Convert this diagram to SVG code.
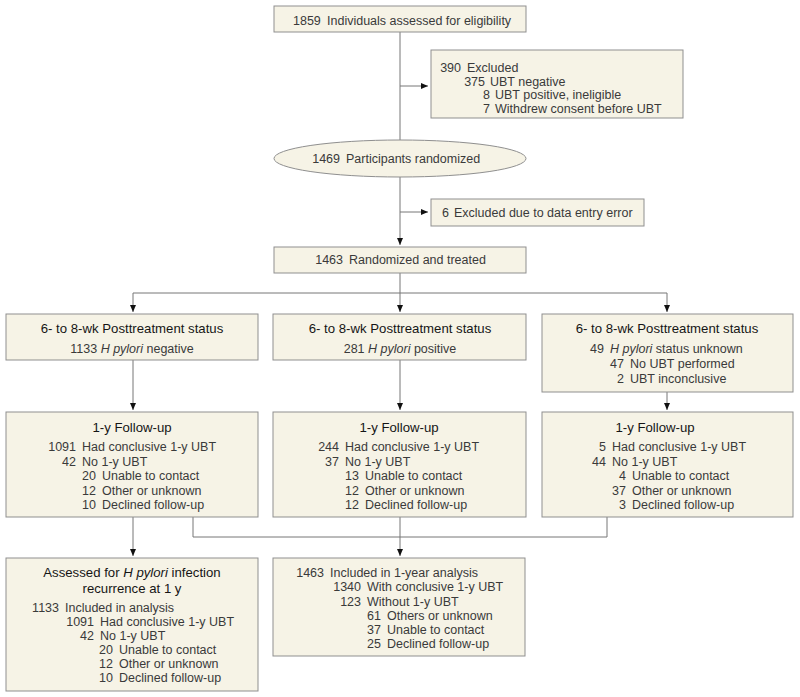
<svg xmlns="http://www.w3.org/2000/svg" width="800" height="697" viewBox="0 0 800 697">
<defs>
<marker id="ah" markerUnits="userSpaceOnUse" markerWidth="8" markerHeight="7" refX="7" refY="3" orient="auto">
<path d="M0,0 L7,3 L0,6 z" fill="#111"/>
</marker>
<style>
.box{fill:#f6f3e6;stroke:#8f8f8f;stroke-width:1}
.ln{fill:none;stroke:#777;stroke-width:1}
.arr{fill:none;stroke:#777;stroke-width:1;marker-end:url(#ah)}
text{font-family:"Liberation Sans",Arial,Helvetica,sans-serif;font-size:12.5px;fill:#3a3a3a}
.n{text-anchor:end}
.c{text-anchor:middle}
.t{font-size:13.2px;fill:#151515;text-anchor:middle}
.i{font-style:italic}
</style>
</defs>
<rect width="800" height="697" fill="#ffffff"/>

<g id="connectors">
<line class="ln" x1="400" y1="32" x2="400" y2="140"/>
<line class="arr" x1="400" y1="86" x2="428" y2="86"/>
<line class="arr" x1="400" y1="177" x2="400" y2="245"/>
<line class="arr" x1="400" y1="212" x2="428" y2="212"/>
<line class="ln" x1="400" y1="273" x2="400" y2="293"/>
<line class="ln" x1="133" y1="293" x2="667" y2="293"/>
<line class="arr" x1="133" y1="293" x2="133" y2="312"/>
<line class="arr" x1="400" y1="293" x2="400" y2="312"/>
<line class="arr" x1="667" y1="293" x2="667" y2="312"/>
<line class="arr" x1="133" y1="360" x2="133" y2="410"/>
<line class="arr" x1="400" y1="360" x2="400" y2="410"/>
<line class="arr" x1="667" y1="392" x2="667" y2="410"/>
<line class="arr" x1="133" y1="517" x2="133" y2="556"/>
<line class="arr" x1="400" y1="517" x2="400" y2="556"/>
<polyline class="ln" points="193,517 193,537 607,537 607,517"/>
</g>

<g id="assessed">
<rect class="box" x="274" y="6" width="252" height="26"/>
<text x="293" y="24.5">1859</text>
<text x="327" y="24.5">Individuals assessed for eligibility</text>
</g>

<g id="excluded">
<rect class="box" x="431" y="50" width="252" height="68"/>
<text class="n" x="461" y="72">390</text><text x="467" y="72">Excluded</text>
<text class="n" x="485" y="85.5">375</text><text x="490" y="85.5">UBT negative</text>
<text class="n" x="490" y="99">8</text><text x="495" y="99">UBT positive, ineligible</text>
<text class="n" x="490" y="112.5">7</text><text x="495" y="112.5">Withdrew consent before UBT</text>
</g>

<g id="randomized">
<ellipse class="box" cx="400" cy="158.5" rx="126" ry="18.5"/>
<text class="n" x="340" y="163">1469</text><text x="346" y="163">Participants randomized</text>
</g>

<g id="excluded-data">
<rect class="box" x="431" y="199" width="213" height="27"/>
<text class="n" x="449" y="217">6</text><text x="454" y="217">Excluded due to data entry error</text>
</g>

<g id="treated">
<rect class="box" x="274" y="247" width="252" height="26"/>
<text class="n" x="343" y="264">1463</text><text x="349" y="264">Randomized and treated</text>
</g>

<g id="status-negative">
<rect class="box" x="6" y="314" width="252" height="46"/>
<text class="t" x="132" y="333">6- to 8-wk Posttreatment status</text>
<text class="c" x="132" y="353">1133 <tspan class="i">H pylori</tspan> negative</text>
</g>

<g id="status-positive">
<rect class="box" x="273" y="314" width="253" height="46"/>
<text class="t" x="400" y="333">6- to 8-wk Posttreatment status</text>
<text class="c" x="400" y="353">281 <tspan class="i">H pylori</tspan> positive</text>
</g>

<g id="status-unknown">
<rect class="box" x="542" y="314" width="251" height="78"/>
<text class="t" x="667" y="333">6- to 8-wk Posttreatment status</text>
<text class="n" x="604" y="353">49</text><text x="610" y="353"><tspan class="i">H pylori</tspan> status unknown</text>
<text class="n" x="624" y="367.5">47</text><text x="630" y="367.5">No UBT performed</text>
<text class="n" x="624" y="383">2</text><text x="630" y="383">UBT inconclusive</text>
</g>

<g id="followup-negative">
<rect class="box" x="6" y="412" width="252" height="105"/>
<text class="t" x="132" y="431.5">1-y Follow-up</text>
<text class="n" x="76" y="451">1091</text><text x="82" y="451">Had conclusive 1-y UBT</text>
<text class="n" x="76" y="465.5">42</text><text x="82" y="465.5">No 1-y UBT</text>
<text class="n" x="96" y="480">20</text><text x="102" y="480">Unable to contact</text>
<text class="n" x="96" y="494.5">12</text><text x="102" y="494.5">Other or unknown</text>
<text class="n" x="96" y="509">10</text><text x="102" y="509">Declined follow-up</text>
</g>

<g id="followup-positive">
<rect class="box" x="273" y="412" width="253" height="105"/>
<text class="t" x="399" y="431.5">1-y Follow-up</text>
<text class="n" x="339" y="451">244</text><text x="345" y="451">Had conclusive 1-y UBT</text>
<text class="n" x="339" y="465.5">37</text><text x="345" y="465.5">No 1-y UBT</text>
<text class="n" x="359" y="480">13</text><text x="365" y="480">Unable to contact</text>
<text class="n" x="359" y="494.5">12</text><text x="365" y="494.5">Other or unknown</text>
<text class="n" x="359" y="509">12</text><text x="365" y="509">Declined follow-up</text>
</g>

<g id="followup-unknown">
<rect class="box" x="542" y="412" width="251" height="105"/>
<text class="t" x="655" y="431.5">1-y Follow-up</text>
<text class="n" x="606" y="451">5</text><text x="612" y="451">Had conclusive 1-y UBT</text>
<text class="n" x="606" y="465.5">44</text><text x="612" y="465.5">No 1-y UBT</text>
<text class="n" x="626" y="480">4</text><text x="632" y="480">Unable to contact</text>
<text class="n" x="626" y="494.5">37</text><text x="632" y="494.5">Other or unknown</text>
<text class="n" x="626" y="509">3</text><text x="632" y="509">Declined follow-up</text>
</g>

<g id="recurrence">
<rect class="box" x="6" y="558" width="252" height="133"/>
<text class="t" x="132" y="577">Assessed for <tspan class="i">H pylori</tspan> infection</text>
<text class="t" x="132" y="593">recurrence at 1 y</text>
<text class="n" x="59" y="611.5">1133</text><text x="65" y="611.5">Included in analysis</text>
<text class="n" x="94" y="625.5">1091</text><text x="100" y="625.5">Had conclusive 1-y UBT</text>
<text class="n" x="94" y="639.5">42</text><text x="100" y="639.5">No 1-y UBT</text>
<text class="n" x="113" y="653.5">20</text><text x="119" y="653.5">Unable to contact</text>
<text class="n" x="113" y="667.5">12</text><text x="119" y="667.5">Other or unknown</text>
<text class="n" x="113" y="681.5">10</text><text x="119" y="681.5">Declined follow-up</text>
</g>

<g id="analysis">
<rect class="box" x="273" y="558" width="252" height="98"/>
<text class="n" x="324" y="577">1463</text><text x="330" y="577">Included in 1-year analysis</text>
<text class="n" x="361" y="591">1340</text><text x="367" y="591">With conclusive 1-y UBT</text>
<text class="n" x="361" y="605.5">123</text><text x="367" y="605.5">Without 1-y UBT</text>
<text class="n" x="381" y="620">61</text><text x="387" y="620">Others or unknown</text>
<text class="n" x="381" y="634">37</text><text x="387" y="634">Unable to contact</text>
<text class="n" x="381" y="647.5">25</text><text x="387" y="647.5">Declined follow-up</text>
</g>
</svg>
